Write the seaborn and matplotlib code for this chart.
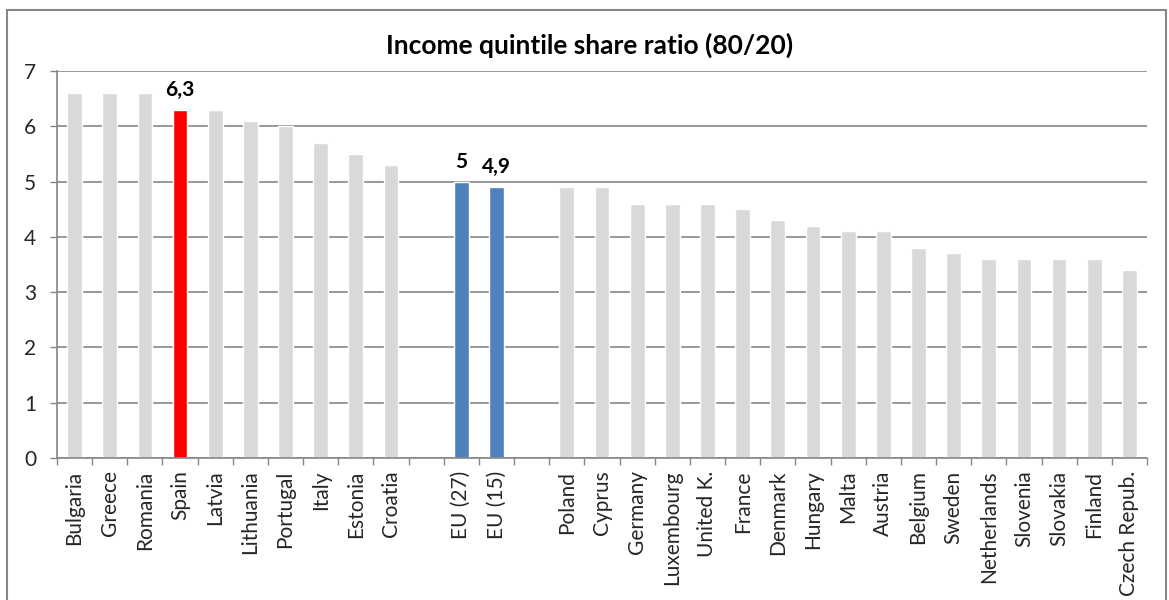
import matplotlib
matplotlib.use("Agg")
import matplotlib.pyplot as plt
import seaborn as sns
import pandas as pd
from matplotlib.patches import Rectangle
from matplotlib.ticker import FixedLocator

sns.set_theme(style="white")
plt.rcParams['font.family'] = ['Lato', 'DejaVu Sans']

countries = ["Bulgaria", "Greece", "Romania", "Spain", "Latvia", "Lithuania", "Portugal",
             "Italy", "Estonia", "Croatia", " ", "EU (27)", "EU (15)", "  ",
             "Poland", "Cyprus", "Germany", "Luxembourg", "United K.", "France", "Denmark",
             "Hungary", "Malta", "Austria", "Belgium", "Sweden", "Netherlands", "Slovenia",
             "Slovakia", "Finland", "Czech Repub."]
values = [6.6, 6.6, 6.6, 6.3, 6.3, 6.1, 6.0, 5.7, 5.5, 5.3, None, 5.0, 4.9, None,
          4.9, 4.9, 4.6, 4.6, 4.6, 4.5, 4.3, 4.2, 4.1, 4.1, 3.8, 3.7, 3.6, 3.6,
          3.6, 3.6, 3.4]
labelled = {"Spain": "6,3", "EU (27)": "5", "EU (15)": "4,9"}

GREY, RED, BLUE = "#d9d9d9", "#ff0000", "#4f81bd"
palette = {c: GREY for c in countries}
palette["Spain"] = RED
palette["EU (27)"] = BLUE
palette["EU (15)"] = BLUE

df = pd.DataFrame({"country": countries, "value": values}).dropna()

fig = plt.figure(figsize=(11.69, 6.0), dpi=100)
ax = fig.add_axes([57/1169, 1-458/600, (1147-57)/1169, (458-71)/600])

sns.barplot(data=df, x="country", y="value", hue="country", order=countries,
            palette=palette, width=0.42, legend=False, ax=ax, saturation=1)

ax.set_ylim(0, 7)
ax.set_xlim(-0.5, len(countries) - 0.5)
ax.set_yticks(range(0, 8))
ax.yaxis.grid(True, color="#868686", linewidth=1.2)
ax.set_axisbelow(True)
ax.set_xlabel("")
ax.set_ylabel("")

ax.set_xticks(range(len(countries)))
ax.set_xticklabels(countries, rotation=90, fontsize=15)
ax.xaxis.set_minor_locator(FixedLocator([i - 0.5 for i in range(len(countries) + 1)]))
ax.tick_params(axis="x", which="major", length=0, pad=9)
ax.tick_params(axis="x", which="minor", length=5, color="#868686", width=1, bottom=True)
ax.tick_params(axis="y", which="major", length=5, color="#868686", width=1, left=True, labelsize=15, pad=10)

for s in ["top", "right"]:
    ax.spines[s].set_visible(False)
for s in ["left", "bottom"]:
    ax.spines[s].set_color("#868686")
    ax.spines[s].set_linewidth(1.2)

for i, c in enumerate(countries):
    if c in labelled:
        v = values[i]
        ax.text(i, v + 0.18, labelled[c], ha="center", va="bottom",
                fontsize=15, fontweight="bold", color="black")

fig.text(590/1169, 1-45/600, "Income quintile share ratio (80/20)", ha="center", va="center",
         fontsize=19, fontweight="bold", color="black")

fig.patches.append(Rectangle((7/1169, -0.05), (1166-7)/1169, 1-10/600 + 0.05,
                             transform=fig.transFigure, fill=False,
                             edgecolor="#868686", linewidth=1.5))

fig.savefig("out.png", dpi=100)
